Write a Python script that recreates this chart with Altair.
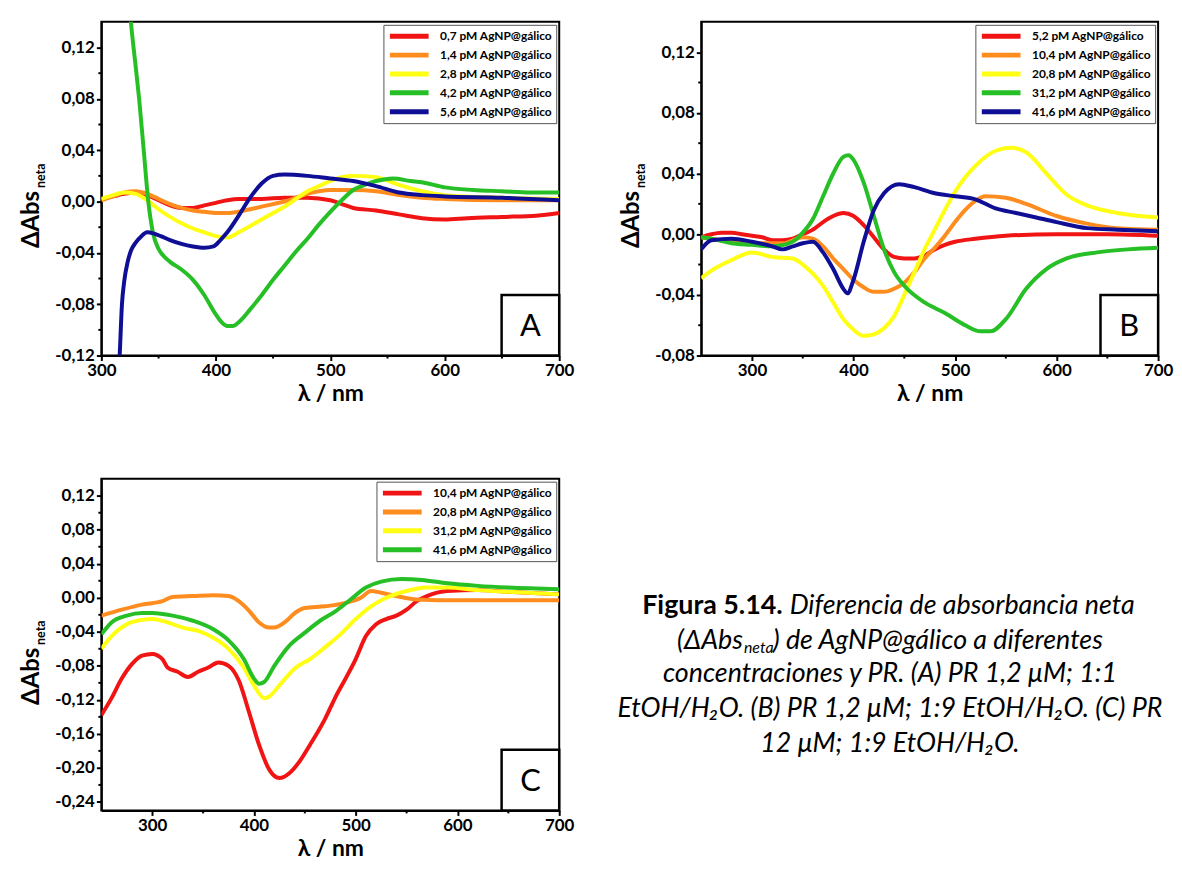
import altair as alt
import pandas as pd

FONT = "Lato"
COLORS = ["#f01414", "#ff8c1e", "#ffff14", "#26bf26", "#0f0f96"]

# ---------------- Panel A ----------------
A_labels = ["0,7 pM AgNP@gálico", "1,4 pM AgNP@gálico", "2,8 pM AgNP@gálico",
            "4,2 pM AgNP@gálico", "5,6 pM AgNP@gálico"]
A_red_nm = [300, 310, 320, 330, 340, 350, 360, 370, 380, 390, 400, 410, 420, 430, 440, 460, 480, 500, 510, 520, 540, 560, 580, 600, 620, 650, 680, 700]
A_red_v = [0.002, 0.004, 0.006, 0.007, 0.005, 0.001, -0.003, -0.005, -0.005, -0.003, -0.001, 0.001, 0.002, 0.002, 0.002, 0.003, 0.003, 0.001, -0.002, -0.005, -0.007, -0.010, -0.013, -0.014, -0.013, -0.012, -0.011, -0.009]
A_orange_nm = [300, 310, 320, 330, 340, 350, 360, 370, 380, 390, 400, 410, 420, 430, 440, 450, 460, 470, 480, 490, 500, 520, 540, 560, 580, 600, 650, 700]
A_orange_v = [0.001, 0.004, 0.007, 0.008, 0.006, 0.002, -0.002, -0.005, -0.007, -0.008, -0.009, -0.009, -0.008, -0.006, -0.004, -0.002, 0.000, 0.003, 0.006, 0.008, 0.009, 0.009, 0.008, 0.005, 0.003, 0.002, 0.001, 0.001]
A_yellow_nm = [300, 310, 320, 330, 340, 350, 360, 370, 380, 390, 400, 410, 420, 430, 440, 450, 460, 470, 480, 490, 500, 510, 520, 540, 560, 580, 600, 650, 700]
A_yellow_v = [0.002, 0.005, 0.007, 0.006, 0.001, -0.006, -0.012, -0.017, -0.021, -0.024, -0.027, -0.028, -0.024, -0.019, -0.014, -0.009, -0.004, 0.002, 0.008, 0.012, 0.016, 0.019, 0.020, 0.019, 0.013, 0.008, 0.005, 0.003, 0.002]
A_green_nm = [318, 322, 326, 330, 333, 337, 341, 345, 350, 355, 360, 370, 380, 390, 400, 405, 410, 415, 420, 430, 440, 450, 460, 470, 480, 490, 500, 510, 520, 530, 540, 555, 570, 580, 600, 625, 650, 675, 700]
A_green_v = [0.22, 0.18, 0.138, 0.105, 0.08, 0.04, 0.0, -0.024, -0.037, -0.043, -0.047, -0.053, -0.061, -0.073, -0.088, -0.094, -0.097, -0.097, -0.094, -0.084, -0.073, -0.061, -0.050, -0.039, -0.029, -0.018, -0.008, 0.001, 0.009, 0.013, 0.016, 0.018, 0.016, 0.015, 0.011, 0.009, 0.008, 0.007, 0.007]
A_blue_nm = [312, 316, 318, 320, 323, 326, 330, 335, 340, 346, 352, 360, 370, 380, 390, 398, 404, 410, 420, 430, 440, 450, 460, 480, 500, 520, 540, 560, 580, 600, 650, 700]
A_blue_v = [-0.18, -0.12, -0.08, -0.062, -0.047, -0.038, -0.032, -0.027, -0.024, -0.025, -0.027, -0.030, -0.033, -0.035, -0.036, -0.035, -0.030, -0.024, -0.011, 0.003, 0.014, 0.020, 0.021, 0.020, 0.018, 0.016, 0.012, 0.007, 0.005, 0.004, 0.003, 0.001]

# ---------------- Panel B ----------------
B_labels = ["5,2 pM AgNP@gálico", "10,4 pM AgNP@gálico", "20,8 pM AgNP@gálico",
            "31,2 pM AgNP@gálico", "41,6 pM AgNP@gálico"]
B_red_nm = [250, 260, 270, 280, 290, 300, 310, 320, 330, 340, 350, 360, 370, 380, 390, 400, 410, 420, 430, 440, 450, 460, 470, 480, 490, 500, 520, 550, 600, 650, 700]
B_red_v = [-0.002, 0.000, 0.001, 0.001, 0.000, -0.001, -0.002, -0.004, -0.004, -0.003, 0.000, 0.003, 0.008, 0.012, 0.014, 0.012, 0.006, -0.002, -0.010, -0.015, -0.016, -0.016, -0.014, -0.010, -0.007, -0.005, -0.003, -0.001, 0.000, 0.000, -0.001]
B_orange_nm = [250, 270, 300, 330, 350, 360, 370, 380, 390, 400, 410, 420, 430, 440, 450, 460, 470, 480, 490, 500, 510, 520, 530, 550, 570, 600, 630, 660, 700]
B_orange_v = [-0.002, -0.004, -0.006, -0.006, -0.002, -0.003, -0.008, -0.016, -0.023, -0.030, -0.035, -0.038, -0.038, -0.036, -0.032, -0.025, -0.016, -0.009, -0.001, 0.008, 0.016, 0.022, 0.025, 0.024, 0.020, 0.012, 0.007, 0.004, 0.003]
B_yellow_nm = [250, 260, 280, 300, 320, 340, 350, 360, 370, 380, 390, 400, 410, 420, 430, 440, 450, 460, 470, 480, 490, 500, 520, 540, 555, 570, 590, 610, 630, 660, 700]
B_yellow_v = [-0.029, -0.024, -0.017, -0.012, -0.015, -0.016, -0.020, -0.026, -0.034, -0.045, -0.056, -0.063, -0.067, -0.066, -0.062, -0.054, -0.040, -0.025, -0.010, 0.003, 0.016, 0.028, 0.045, 0.055, 0.057, 0.054, 0.040, 0.026, 0.019, 0.014, 0.011]
B_green_nm = [250, 260, 280, 300, 320, 340, 350, 360, 370, 380, 390, 395, 400, 410, 420, 430, 440, 450, 470, 490, 510, 525, 535, 550, 570, 590, 610, 640, 670, 700]
B_green_v = [-0.002, -0.003, -0.006, -0.007, -0.008, -0.005, 0.001, 0.010, 0.025, 0.040, 0.051, 0.052, 0.049, 0.034, 0.012, -0.010, -0.025, -0.034, -0.045, -0.052, -0.060, -0.064, -0.064, -0.056, -0.036, -0.023, -0.016, -0.012, -0.010, -0.009]
B_blue_nm = [250, 260, 280, 300, 320, 330, 340, 350, 360, 370, 380, 390, 394, 400, 410, 420, 430, 445, 460, 480, 500, 520, 540, 560, 580, 600, 630, 660, 700]
B_blue_v = [-0.010, -0.004, -0.003, -0.005, -0.008, -0.010, -0.008, -0.006, -0.005, -0.012, -0.023, -0.036, -0.039, -0.030, -0.005, 0.016, 0.027, 0.033, 0.031, 0.027, 0.025, 0.023, 0.017, 0.014, 0.011, 0.008, 0.004, 0.003, 0.002]

# ---------------- Panel C ----------------
C_labels = ["10,4 pM AgNP@gálico", "20,8 pM AgNP@gálico", "31,2 pM AgNP@gálico",
            "41,6 pM AgNP@gálico"]
C_red_nm = [250, 260, 270, 280, 290, 300, 310, 315, 325, 335, 345, 355, 365, 375, 385, 395, 405, 415, 425, 435, 445, 455, 470, 480, 490, 500, 510, 520, 530, 540, 550, 560, 570, 580, 590, 620, 650, 700]
C_red_v = [-0.138, -0.118, -0.095, -0.078, -0.068, -0.066, -0.072, -0.082, -0.087, -0.093, -0.087, -0.082, -0.076, -0.080, -0.097, -0.134, -0.173, -0.202, -0.212, -0.206, -0.192, -0.173, -0.142, -0.117, -0.095, -0.072, -0.045, -0.031, -0.025, -0.021, -0.014, -0.004, 0.002, 0.006, 0.008, 0.009, 0.007, 0.004]
C_orange_nm = [250, 270, 290, 310, 320, 340, 360, 375, 385, 395, 405, 415, 420, 430, 440, 450, 470, 490, 505, 515, 525, 540, 560, 600, 650, 700]
C_orange_v = [-0.021, -0.014, -0.008, -0.004, 0.001, 0.002, 0.003, 0.002, -0.004, -0.015, -0.029, -0.035, -0.035, -0.029, -0.018, -0.012, -0.010, -0.006, 0.000, 0.008, 0.006, 0.002, -0.002, -0.003, -0.003, -0.003]
C_yellow_nm = [250, 260, 275, 290, 300, 315, 330, 345, 360, 375, 390, 400, 410, 415, 425, 440, 455, 470, 485, 500, 515, 530, 550, 570, 590, 620, 650, 700]
C_yellow_v = [-0.060, -0.045, -0.031, -0.026, -0.025, -0.029, -0.035, -0.039, -0.047, -0.060, -0.082, -0.103, -0.118, -0.116, -0.103, -0.083, -0.072, -0.058, -0.043, -0.025, -0.010, 0.000, 0.008, 0.012, 0.012, 0.009, 0.007, 0.004]
C_green_nm = [250, 260, 275, 290, 300, 320, 340, 360, 375, 390, 400, 405, 410, 420, 435, 450, 465, 480, 495, 510, 525, 545, 565, 590, 620, 650, 700]
C_green_v = [-0.043, -0.029, -0.021, -0.018, -0.018, -0.021, -0.027, -0.037, -0.050, -0.072, -0.095, -0.101, -0.099, -0.080, -0.056, -0.041, -0.027, -0.016, -0.002, 0.012, 0.019, 0.022, 0.021, 0.017, 0.014, 0.012, 0.010]

# caption pieces
CAP_BOLD = "Figura 5.14."
CAP_L1 = "Diferencia de absorbancia neta"
CAP_L2A = "(ΔAbs"
CAP_L2SUB = "neta"
CAP_L2B = ") de AgNP@gálico a diferentes"
CAP_REST = ["concentraciones y PR. (A) PR 1,2 μM; 1:1",
            "EtOH/H₂O. (B) PR 1,2 μM; 1:9 EtOH/H₂O. (C) PR",
            "12 μM; 1:9 EtOH/H₂O."]

LABEL_EXPR = "replace(replace(format(datum.value, '.2f'), '.', ','), '\u2212', '-')"

AXIS_STYLE = dict(domainColor="black", domainWidth=2, tickColor="black", tickWidth=2, tickSize=5,
                  labelColor="black", labelFont=FONT, labelFontSize=17, labelFontWeight="bold",
                  grid=False, titleFont=FONT, titleFontSize=23, titleFontWeight="bold",
                  titleColor="black", labelFlush=False, labelOverlap=False, labelPadding=2)


def panel(series, labels, xdom, ydom, xticks, xminor, yticks, yminor, letter, W, H):
    rows = []
    for lab, (nm, v) in zip(labels, series):
        for a, b in zip(nm, v):
            rows.append({"nm": a, "v": b, "s": lab})
    df = pd.DataFrame(rows)
    xs = alt.Scale(domain=xdom, nice=False, zero=False)
    ys = alt.Scale(domain=ydom, nice=False, zero=False)
    xaxis = alt.Axis(values=xticks, title="λ / nm", format="d", titlePadding=4, **AXIS_STYLE)
    yaxis = alt.Axis(values=yticks, title=None, labelExpr=LABEL_EXPR, **AXIS_STYLE)
    legend = alt.Legend(title=None, orient="top-right", offset=3, symbolType="stroke",
                        symbolStrokeWidth=5, symbolSize=1521, clipHeight=15, rowPadding=4,
                        labelFont=FONT, labelFontWeight="bold", labelFontSize=12,
                        labelColor="black", labelOffset=9, padding=4, strokeColor="#555",
                        fillColor="white", labelLimit=300)
    lines = alt.Chart(df).mark_line(clip=True, strokeWidth=4, interpolate="monotone").encode(
        x=alt.X("nm:Q", scale=xs, axis=xaxis),
        y=alt.Y("v:Q", scale=ys, axis=yaxis),
        color=alt.Color("s:N", scale=alt.Scale(domain=labels, range=COLORS[:len(labels)]),
                        legend=legend),
    )
    xm = alt.Chart(pd.DataFrame({"nm": xminor})).mark_rule(color="black", strokeWidth=2).encode(
        x=alt.X("nm:Q", scale=xs, axis=xaxis), y=alt.value(H), y2=alt.value(H + 3))
    ym = alt.Chart(pd.DataFrame({"v": yminor})).mark_rule(color="black", strokeWidth=2).encode(
        y=alt.Y("v:Q", scale=ys, axis=yaxis), x=alt.value(0), x2=alt.value(-3))
    lt = pd.DataFrame({"t": [letter]})
    box = alt.Chart(lt).mark_rect(fill="white", stroke="black", strokeWidth=2.5).encode(
        x=alt.value(W - 58), x2=alt.value(W), y=alt.value(H - 61), y2=alt.value(H))
    btxt = alt.Chart(lt).mark_text(font=FONT, fontSize=31, color="black", baseline="middle").encode(
        x=alt.value(W - 29), y=alt.value(H - 29), text="t:N")
    yt = alt.Chart(pd.DataFrame({"t": ["ΔAbs"]})).mark_text(
        angle=270, font=FONT, fontWeight="bold", fontSize=24, baseline="middle", color="black").encode(
        x=alt.value(-70), y=alt.value(199), text="t:N")
    ysub = alt.Chart(pd.DataFrame({"t": ["neta"]})).mark_text(
        angle=270, font=FONT, fontWeight="bold", fontSize=12.5, baseline="middle", color="black").encode(
        x=alt.value(-61), y=alt.value(155), text="t:N")
    return [lines, xm, ym, box, btxt, yt, ysub]


A_layers = panel([(A_red_nm, A_red_v), (A_orange_nm, A_orange_v), (A_yellow_nm, A_yellow_v),
                  (A_green_nm, A_green_v), (A_blue_nm, A_blue_v)], A_labels,
                 [300, 700], [-0.12, 0.14], [300, 400, 500, 600, 700], [350, 450, 550, 650],
                 [-0.12, -0.08, -0.04, 0.0, 0.04, 0.08, 0.12], [-0.10, -0.06, -0.02, 0.02, 0.06, 0.10],
                 "A", 461, 336)
B_layers = panel([(B_red_nm, B_red_v), (B_orange_nm, B_orange_v), (B_yellow_nm, B_yellow_v),
                  (B_green_nm, B_green_v), (B_blue_nm, B_blue_v)], B_labels,
                 [250, 700], [-0.08, 0.14], [300, 400, 500, 600, 700], [350, 450, 550, 650],
                 [-0.08, -0.04, 0.0, 0.04, 0.08, 0.12], [-0.06, -0.02, 0.02, 0.06, 0.10],
                 "B", 460, 336)
C_layers = panel([(C_red_nm, C_red_v), (C_orange_nm, C_orange_v), (C_yellow_nm, C_yellow_v),
                  (C_green_nm, C_green_v)], C_labels,
                 [250, 700], [-0.25, 0.14], [300, 400, 500, 600, 700], [350, 450, 550, 650],
                 [-0.24, -0.20, -0.16, -0.12, -0.08, -0.04, 0.0, 0.04, 0.08, 0.12],
                 [-0.22, -0.18, -0.14, -0.10, -0.06, -0.02, 0.02, 0.06, 0.10],
                 "C", 461, 334)

CAP_SIZE = 27


def cap_text(t, x, y, align, weight="normal", style="italic", size=CAP_SIZE):
    return alt.Chart(pd.DataFrame({"t": [t]})).mark_text(
        font=FONT, fontSize=size, fontWeight=weight, fontStyle=style, align=align,
        baseline="middle", color="black").encode(x=alt.value(x), y=alt.value(y), text="t:N")


# caption (placed to the right of panel C, coordinates relative to panel C)
cap = [
    cap_text(CAP_BOLD, 686, 128, "right", weight="bold", style="normal"),
    cap_text(CAP_L1, 693, 128, "left"),
    cap_text(CAP_L2A, 646, 163, "right"),
    cap_text(CAP_L2SUB, 647, 170, "left", size=16),
    cap_text(CAP_L2B, 676, 163, "left"),
]
for i, line in enumerate(CAP_REST):
    cap.append(cap_text(line, 794, 197 + 35 * i, "center"))

A = alt.layer(*A_layers).properties(width=461, height=336)
B = alt.layer(*B_layers).properties(width=460, height=336)
C = alt.layer(*(C_layers + cap)).properties(width=461, height=334)

top = alt.hconcat(A, B, spacing=143, bounds="flush").resolve_scale(color="independent")
chart = alt.vconcat(top, C, spacing=460, bounds="flush").resolve_scale(color="independent").properties(
    padding={"left": 11, "top": 10, "right": 0, "bottom": 0}, background="white"
).configure_view(stroke="black", strokeWidth=2).configure_axis(**AXIS_STYLE)

chart.save("out.html", embed_options={"renderer": "svg", "actions": False})
